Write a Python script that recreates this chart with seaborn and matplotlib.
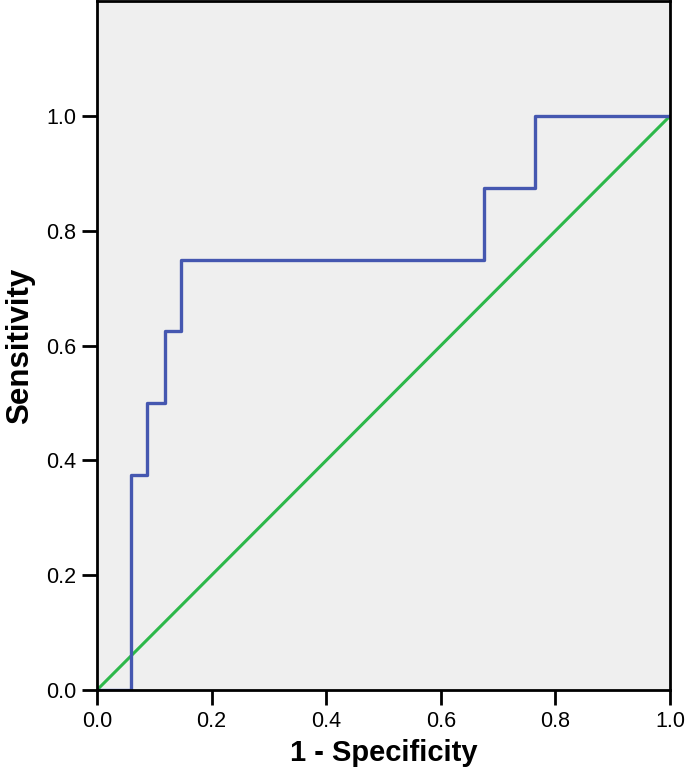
import seaborn as sns
import matplotlib.pyplot as plt
import pandas as pd

# ROC curve corner points (1 - specificity, sensitivity)
fpr = [0.0, 0.059, 0.059, 0.088, 0.088, 0.118, 0.118, 0.147, 0.147,
       0.676, 0.676, 0.765, 0.765, 1.0]
tpr = [0.0, 0.0, 0.375, 0.375, 0.5, 0.5, 0.625, 0.625, 0.75,
       0.75, 0.875, 0.875, 1.0, 1.0]
ref_x = [0.0, 1.0]
ref_y = [0.0, 1.0]
ticks = [0.0, 0.2, 0.4, 0.6, 0.8, 1.0]

sns.set_style("ticks")
plt.rcParams["font.family"] = ["Liberation Sans", "DejaVu Sans"]

fig = plt.figure(figsize=(6.85, 7.7), dpi=100)
ax = fig.add_axes([0.1416, 0.1039, 0.8365, 0.8945])
ax.set_facecolor("#efefef")

roc = pd.DataFrame({"fpr": fpr, "tpr": tpr})
diag = pd.DataFrame({"x": ref_x, "y": ref_y})
sns.lineplot(data=diag, x="x", y="y", sort=False, estimator=None,
             color="#2db84a", linewidth=2.2, ax=ax)
sns.lineplot(data=roc, x="fpr", y="tpr", sort=False, estimator=None,
             color="#4557b0", linewidth=2.4, ax=ax)

ax.set_xlim(0, 1.0)
ax.set_ylim(0, 1.2)
ax.set_xticks(ticks)
ax.set_yticks(ticks)
ax.set_xticklabels([f"{t:.1f}" for t in ticks])
ax.set_yticklabels([f"{t:.1f}" for t in ticks])
ax.tick_params(axis="both", length=11, width=2, labelsize=15.5,
               color="black", labelcolor="black", pad=4)
for s in ax.spines.values():
    s.set_linewidth(2)
    s.set_color("black")

ax.set_xlabel("1 - Specificity", fontsize=21, fontweight="bold",
              color="black", labelpad=5)
ax.set_ylabel("Sensitivity", fontsize=22.5, fontweight="bold",
              color="black", labelpad=8)

fig.savefig("out.png", dpi=100)
